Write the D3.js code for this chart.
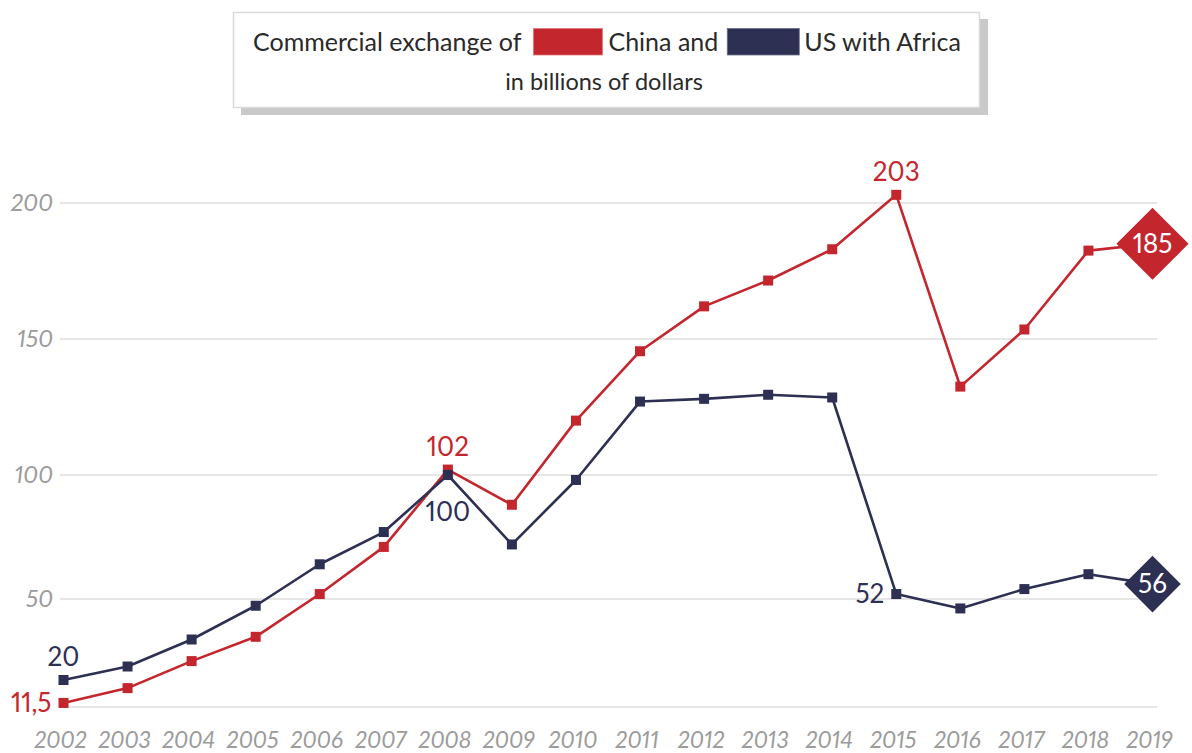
<!DOCTYPE html>
<html>
<head>
<meta charset="utf-8">
<script src="https://cdn.jsdelivr.net/npm/d3@7"></script>
<style>
  body { margin: 0; background: #fff; }
  svg { display: block; }
  text { font-variant-numeric: proportional-nums; }
</style>
</head>
<body>
<svg id="chart" width="1192" height="753"></svg>
<script>
// Trade between China / the US and Africa, billions of dollars
const years = [2002, 2003, 2004, 2005, 2006, 2007, 2008, 2009, 2010,
               2011, 2012, 2013, 2014, 2015, 2016, 2017, 2018, 2019];
const chinaValues = [11.5, 17, 27, 36, 52, 71, 102, 88, 120,
                     145.5, 162, 171.5, 183, 203, 132.5, 153.5, 182.5, 185];
const usValues = [20, 25, 35, 47.5, 64, 77, 100, 72, 98,
                  127, 128, 129.5, 128.5, 52, 46.5, 54, 60, 56];
const yTicks = [50, 100, 150, 200];
const yStops = [10, 50, 100, 150, 200];      // value stops of the (uneven) vertical axis
const chinaCallouts = [2002, 2008, 2015];
const usCallouts = [2002, 2008, 2015];
const legendTitle = ["Commercial exchange of", "China and", "US with Africa"];
const legendSubtitle = "in billions of dollars";

const RED = "#c4262e";
const NAVY = "#2d3052";
const GRID = "#e6e6e6";
const TICK = "#9c9c9c";
const FONT = "Lato, 'Open Sans', sans-serif";

const svg = d3.select("#chart");
const fmt = d3.formatLocale({ decimal: ",", thousands: ".", grouping: [3], currency: ["", ""] }).format("~f");

const x = d3.scalePoint().domain(years).range([63.5, 1152.5]);
const y = d3.scaleLinear().domain(yStops).range([707, 599, 475, 339, 203]);

const gridLeft = 60, gridRight = 1157;

// ---- legend box ----
const legend = svg.append("g")
  .attr("font-family", FONT).attr("font-size", 25).attr("fill", "#2a2a2a");
legend.append("rect").attr("x", 241).attr("y", 19).attr("width", 747).attr("height", 96).attr("fill", "#c9c9c9");
legend.append("rect").attr("x", 233.5).attr("y", 12.5).attr("width", 746).attr("height", 95)
  .attr("fill", "#fff").attr("stroke", "#dadada").attr("stroke-width", 1.5);

let cx = 253;
const lineY = 51;
const t1 = legend.append("text").attr("x", cx).attr("y", lineY).text(legendTitle[0]);
cx += t1.node().getComputedTextLength() + 12;
legend.append("rect").attr("x", cx).attr("y", 28.5).attr("width", 69).attr("height", 26.5)
  .attr("fill", RED).attr("stroke", "#e0777b").attr("stroke-width", 0.8);
cx += 69 + 6;
const t2 = legend.append("text").attr("x", cx).attr("y", lineY).text(legendTitle[1]);
cx += t2.node().getComputedTextLength() + 9;
legend.append("rect").attr("x", cx).attr("y", 28.5).attr("width", 72).attr("height", 26.5)
  .attr("fill", NAVY).attr("stroke", "#6b6e8a").attr("stroke-width", 0.8);
cx += 72 + 5;
legend.append("text").attr("x", cx).attr("y", lineY).text(legendTitle[2]);
legend.append("text").attr("x", 604).attr("y", 90).attr("text-anchor", "middle")
  .attr("font-size", 23.5).text(legendSubtitle);

// ---- grid and y labels ----
const grid = svg.append("g");
grid.selectAll("line").data([yStops[0], ...yTicks]).join("line")
  .attr("x1", gridLeft).attr("x2", gridRight)
  .attr("y1", d => y(d)).attr("y2", d => y(d))
  .attr("stroke", GRID).attr("stroke-width", 2);
grid.selectAll("text").data(yTicks).join("text")
  .attr("x", 53).attr("y", d => y(d)).attr("dy", "0.35em")
  .attr("text-anchor", "end")
  .attr("font-family", FONT).attr("font-style", "italic").attr("font-size", 24)
  .attr("fill", TICK).text(d => d);

// ---- x labels ----
svg.append("g").selectAll("text").data(years).join("text")
  .attr("x", d => x(d) - 3).attr("y", 748)
  .attr("text-anchor", "middle")
  .attr("font-family", "'Liberation Sans Narrow', " + FONT).attr("font-style", "italic").attr("font-size", 23)
  .attr("fill", TICK).text(d => d);

// ---- series ----
const line = d3.line().x(d => x(d.year)).y(d => y(d.value));

function drawSeries(values, color, diamondSide) {
  const data = years.map((yr, i) => ({ year: yr, value: values[i] }));
  const g = svg.append("g");
  g.append("path").datum(data).attr("d", line)
    .attr("fill", "none").attr("stroke", color).attr("stroke-width", 2.6).attr("stroke-linejoin", "round");
  g.selectAll("rect").data(data.slice(0, -1)).join("rect")
    .attr("x", d => x(d.year) - 5).attr("y", d => y(d.value) - 5)
    .attr("width", 10).attr("height", 10).attr("fill", color);
  const last = data[data.length - 1];
  g.append("path")
    .attr("d", d3.symbol(d3.symbolSquare, diamondSide * diamondSide)())
    .attr("transform", `translate(${x(last.year)},${y(last.value)}) rotate(45)`)
    .attr("fill", color);
  g.append("text").attr("x", x(last.year)).attr("y", y(last.value)).attr("dy", "0.36em")
    .attr("text-anchor", "middle").attr("font-family", FONT).attr("font-size", 26)
    .attr("fill", "#fff").text(fmt(last.value));
  return data;
}

const china = drawSeries(chinaValues, RED, 51);
const us = drawSeries(usValues, NAVY, 40);

// ---- value callouts ----
function callout(data, yr, color, place) {
  const d = data.find(p => p.year === yr);
  const px = x(d.year), py = y(d.value);
  const t = svg.append("text").attr("font-family", FONT).attr("font-size", 26).attr("fill", color)
    .text(fmt(d.value));
  if (place === "left") t.attr("x", px - 12).attr("y", py).attr("dy", "0.36em").attr("text-anchor", "end");
  if (place === "above") t.attr("x", px).attr("y", py - 14).attr("text-anchor", "middle");
  if (place === "below") t.attr("x", px).attr("y", py + 46).attr("text-anchor", "middle");
}
const chinaPlaces = ["left", "above", "above"];
const usPlaces = ["above", "below", "left"];
chinaCallouts.forEach((yr, i) => callout(china, yr, RED, chinaPlaces[i]));
usCallouts.forEach((yr, i) => callout(us, yr, NAVY, usPlaces[i]));
</script>
</body>
</html>
